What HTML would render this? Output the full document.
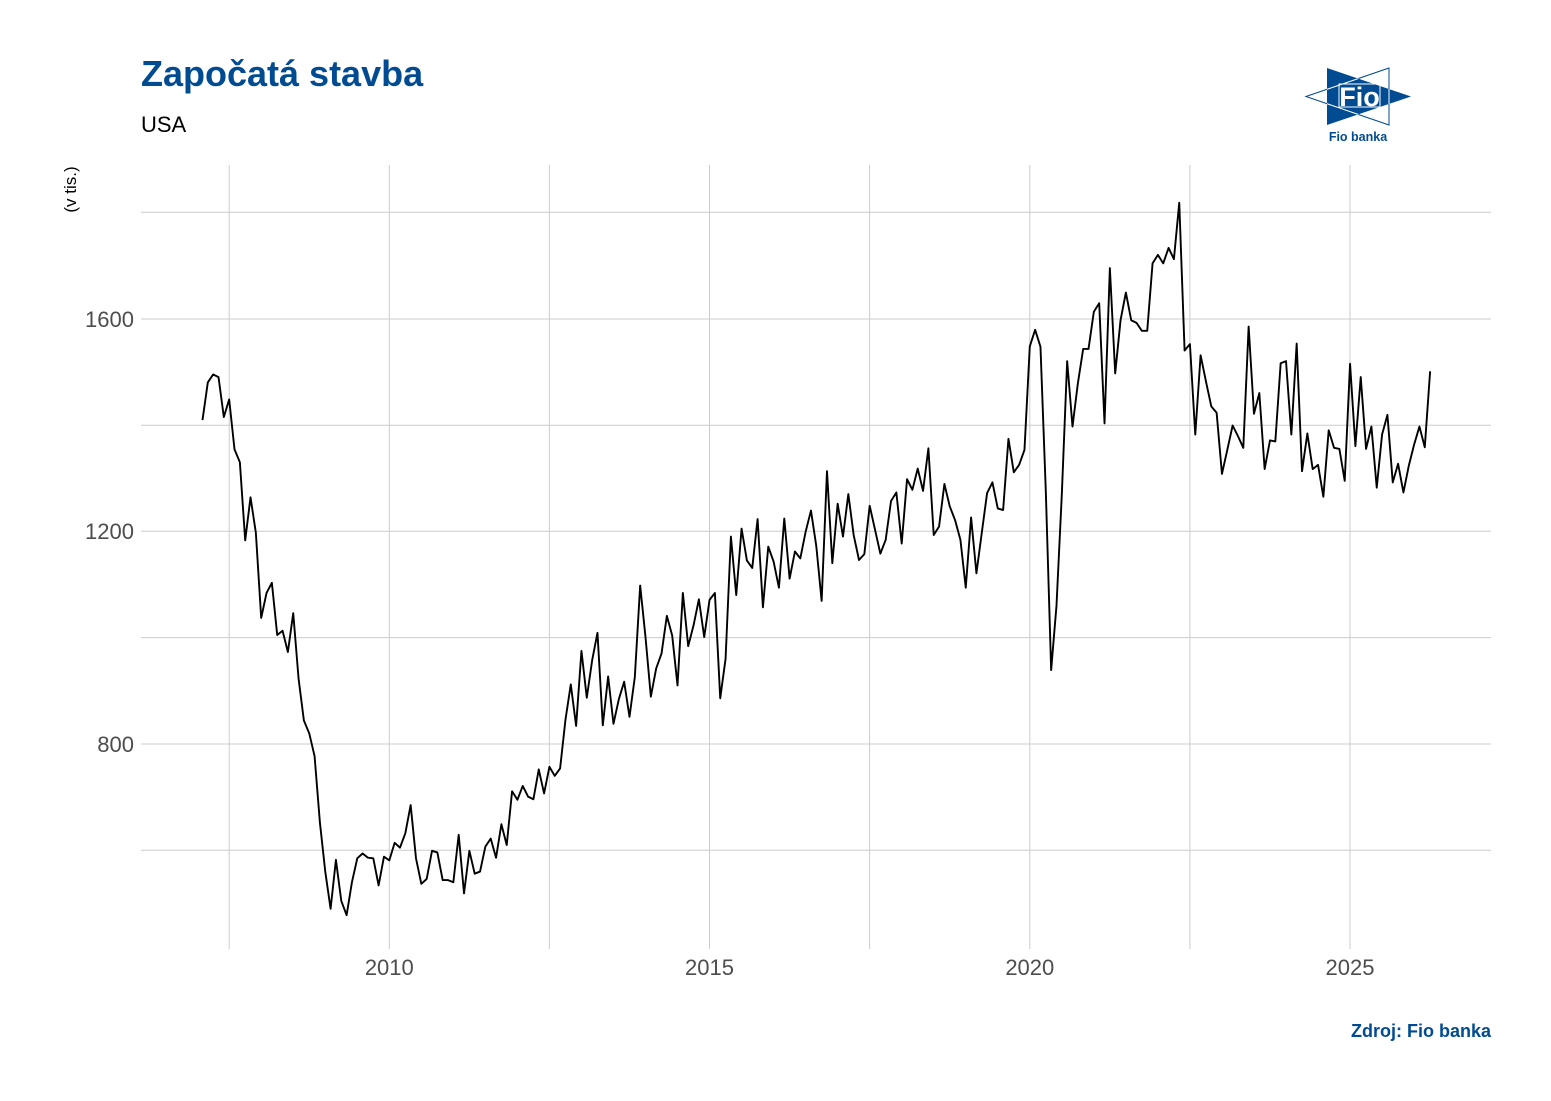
<!DOCTYPE html>
<html>
<head>
<meta charset="utf-8">
<style>
  html, body { margin: 0; padding: 0; background: #ffffff; }
  body { width: 1551px; height: 1101px; overflow: hidden; }
  svg { display: block; }
  text { font-family: "Liberation Sans", Arial, sans-serif; }
</style>
</head>
<body>
<svg width="1551" height="1101" viewBox="0 0 1551 1101" xmlns="http://www.w3.org/2000/svg">
  <rect x="0" y="0" width="1551" height="1101" fill="#ffffff"/>

  <!-- Title & subtitle -->
  <text x="141" y="86" font-size="36" font-weight="bold" fill="#004B91">Započatá stavba</text>
  <text x="141" y="132" font-size="22" fill="#000000">USA</text>

  <!-- Logo -->
  <defs>
    <clipPath id="blueTri">
      <polygon points="1327,68 1411,96.5 1327,125"/>
    </clipPath>
  </defs>
  <polygon points="1306,96.5 1389,68 1389,125" fill="#ffffff" stroke="#004B91" stroke-width="1"/>
  <polygon points="1327,68 1411,96.5 1327,125" fill="#004B91"/>
  <polygon points="1306,96.5 1389,68 1389,125" fill="none" stroke="#ffffff" stroke-width="1" clip-path="url(#blueTri)"/>
  <rect x="1339" y="84" width="41" height="23" fill="none" stroke="#ffffff" stroke-width="1"/>
  <text x="1359.5" y="106" font-family="Liberation Serif, serif" font-size="27" font-weight="bold" fill="#ffffff" text-anchor="middle">Fio</text>
  <text x="1358" y="141" font-size="12.5" font-weight="bold" fill="#004B91" text-anchor="middle">Fio banka</text>

  <!-- Grid: horizontal -->
  <g stroke="#cccccc" stroke-width="1" fill="none">
    <line x1="141" y1="212.3" x2="1491" y2="212.3"/>
    <line x1="141" y1="319" x2="1491" y2="319"/>
    <line x1="141" y1="425.3" x2="1491" y2="425.3"/>
    <line x1="141" y1="531.3" x2="1491" y2="531.3"/>
    <line x1="141" y1="637.6" x2="1491" y2="637.6"/>
    <line x1="141" y1="744" x2="1491" y2="744"/>
    <line x1="141" y1="850.3" x2="1491" y2="850.3"/>
    <!-- vertical -->
    <line x1="229.2" y1="165" x2="229.2" y2="949"/>
    <line x1="389.3" y1="165" x2="389.3" y2="949"/>
    <line x1="549.4" y1="165" x2="549.4" y2="949"/>
    <line x1="709.5" y1="165" x2="709.5" y2="949"/>
    <line x1="869.6" y1="165" x2="869.6" y2="949"/>
    <line x1="1029.8" y1="165" x2="1029.8" y2="949"/>
    <line x1="1189.9" y1="165" x2="1189.9" y2="949"/>
    <line x1="1350" y1="165" x2="1350" y2="949"/>
  </g>

  <!-- Y axis labels -->
  <g font-size="22" fill="#4D4D4D" text-anchor="end">
    <text x="134" y="327">1600</text>
    <text x="134" y="539">1200</text>
    <text x="134" y="752">800</text>
  </g>
  <text transform="translate(76,189.5) rotate(-90)" font-size="17" fill="#000000" text-anchor="middle">(v tis.)</text>

  <!-- X axis labels -->
  <g font-size="22" fill="#4D4D4D" text-anchor="middle">
    <text x="389.3" y="975">2010</text>
    <text x="709.5" y="975">2015</text>
    <text x="1029.8" y="975">2020</text>
    <text x="1350" y="975">2025</text>
  </g>

  <!-- Data line -->
  <polyline transform="translate(202.49,1169.3) scale(5.3375,-0.53167)" vector-effect="non-scaling-stroke"
    fill="none" stroke="#000000" stroke-width="1.9" stroke-linejoin="round"
    points="0,1409 1,1480 2,1495 3,1490 4,1415 5,1448 6,1354 7,1330 8,1183 9,1264 10,1197 11,1037
12,1084 13,1103 14,1005 15,1013 16,973 17,1046 18,923 19,844 20,820 21,777 22,652 23,560
24,490 25,582 26,505 27,478 28,540 29,585 30,594 31,586 32,585 33,534 34,588 35,581
36,614 37,605 38,632 39,685 40,585 41,537 42,546 43,599 44,596 45,544 46,544 47,540
48,629 49,519 50,599 51,556 52,560 53,607 54,622 55,586 56,649 57,610 58,711 59,695
60,721 61,701 62,696 63,752 64,707 65,757 66,740 67,754 68,845 69,912 70,834 71,975
72,887 73,957 74,1009 75,835 76,927 77,838 78,884 79,917 80,851 81,926 82,1098 83,1001
84,889 85,942 86,970 87,1041 88,1004 89,910 90,1084 91,984 92,1023 93,1072 94,1001 95,1071
96,1084 97,886 98,960 99,1190 100,1080 101,1205 102,1145 103,1131 104,1223 105,1057 106,1171 107,1143
108,1094 109,1224 110,1111 111,1162 112,1149 113,1199 114,1239 115,1172 116,1069 117,1313 118,1140 119,1252
120,1190 121,1270 122,1193 123,1146 124,1157 125,1248 126,1203 127,1158 128,1184 129,1257 130,1273 131,1177
132,1298 133,1278 134,1318 135,1276 136,1356 137,1193 138,1209 139,1289 140,1247 141,1221 142,1184 143,1094
144,1226 145,1121 146,1197 147,1272 148,1292 149,1243 150,1240 151,1374 152,1311 153,1325 154,1353 155,1548
156,1579 157,1547 158,1275 159,939 160,1060 161,1270 162,1520 163,1397 164,1478 165,1543 166,1543 167,1613
168,1629 169,1403 170,1695 171,1497 172,1597 173,1649 174,1597 175,1592 176,1577 177,1577 178,1704 179,1720
180,1704 181,1733 182,1712 183,1818 184,1540 185,1552 186,1382 187,1531 188,1482 189,1435 190,1423 191,1308
192,1353 193,1399 194,1379 195,1357 196,1585 197,1421 198,1460 199,1317 200,1371 201,1369 202,1516 203,1520
204,1382 205,1553 206,1313 207,1384 208,1317 209,1325 210,1265 211,1390 212,1357 213,1355 214,1295 215,1515
216,1360 217,1490 218,1355 219,1397 220,1282 221,1382 222,1419 223,1292 224,1327 225,1273 226,1323 227,1363
228,1397 229,1358 230,1501"/>

  <!-- Caption -->
  <text x="1491" y="1037" font-size="18" font-weight="bold" fill="#004B91" text-anchor="end">Zdroj: Fio banka</text>
</svg>
</body>
</html>
